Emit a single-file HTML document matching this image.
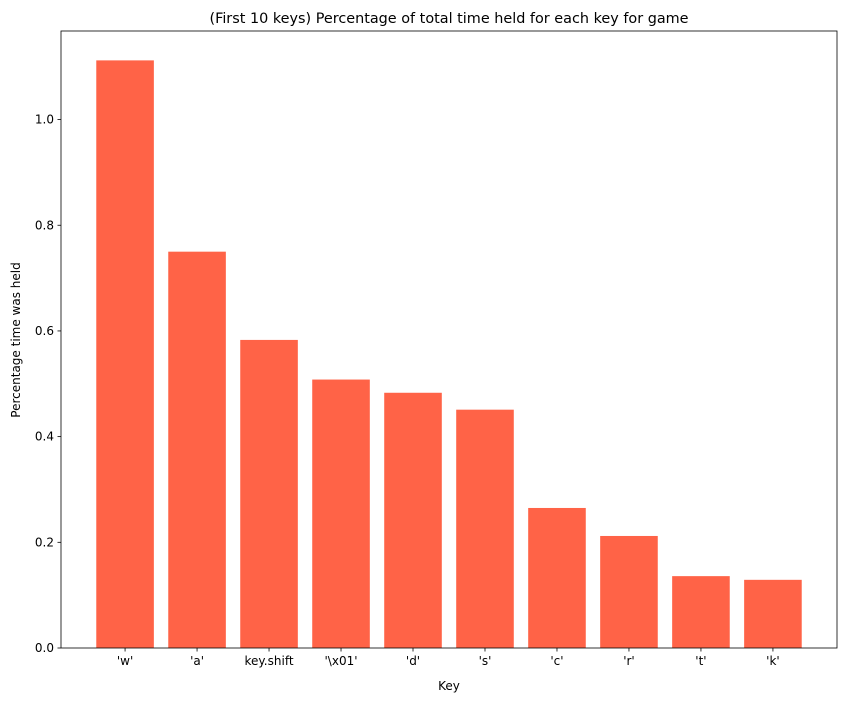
<!DOCTYPE html>
<html><head><meta charset="utf-8"><style>
body{margin:0;background:#fff;font-family:"Liberation Sans","DejaVu Sans",sans-serif;}
svg text{font-family:"DejaVu Sans","Liberation Sans",sans-serif;font-size:12px;fill:#000}
</style></head><body>
<svg id="chart" width="846" height="701" xmlns="http://www.w3.org/2000/svg">
<text x="449" y="23" text-anchor="middle" style="font-size:14.4px">(First 10 keys) Percentage of total time held for each key for game</text>
<g id="bars"></g><g id="axes"></g>
<text x="449" y="690" text-anchor="middle">Key</text>
<text transform="translate(20,340) rotate(-90)" text-anchor="middle">Percentage time was held</text>
</svg>
<script>
const categories=["'w'","'a'","key.shift","'\\x01'","'d'","'s'","'c'","'r'","'t'","'k'"];
const values=[1.112,0.75,0.583,0.508,0.483,0.451,0.265,0.212,0.136,0.129];
const yTicks=[0,0.2,0.4,0.6,0.8,1.0];
const yTickLabels=["0.0","0.2","0.4","0.6","0.8","1.0"];
const L=61,R=837,T=31,B=648;
const n=categories.length;
const xmin=-0.4-0.05*(n-1+0.8), xmax=n-1+0.4+0.05*(n-1+0.8);
const ymax=Math.max(...values)*1.05;
const x=v=>L+(v-xmin)/(xmax-xmin)*(R-L);
const y=v=>B-v/ymax*(B-T);
const NS="http://www.w3.org/2000/svg";
const bars=document.getElementById('bars'),axes=document.getElementById('axes');
function mk(tag,attrs,parent){const e=document.createElementNS(NS,tag);for(const k in attrs)e.setAttribute(k,attrs[k]);parent.appendChild(e);return e;}
values.forEach((v,i)=>{
 const r=mk('rect',{x:x(i-0.4),y:y(v),width:x(0.8)-x(0),height:B-y(v),fill:'#ff6347'},bars);
 
 
 mk('line',{x1:x(i),x2:x(i),y1:B,y2:B+3.5,stroke:'#000','stroke-width':0.8},axes);
 const t=mk('text',{x:x(i),y:B+17,'text-anchor':'middle'},axes);t.textContent=categories[i];
 
 
});
yTicks.forEach((v,i)=>{
 mk('line',{x1:L-3.5,x2:L,y1:y(v),y2:y(v),stroke:'#000','stroke-width':0.8},axes);
 const t=mk('text',{x:L-7,y:y(v)+4,'text-anchor':'end'},axes);t.textContent=yTickLabels[i];
 
 
});
const f=mk('rect',{x:L,y:T,width:R-L,height:B-T,fill:'none',stroke:'#000','stroke-width':0.8},axes);


</script>
</body></html>
